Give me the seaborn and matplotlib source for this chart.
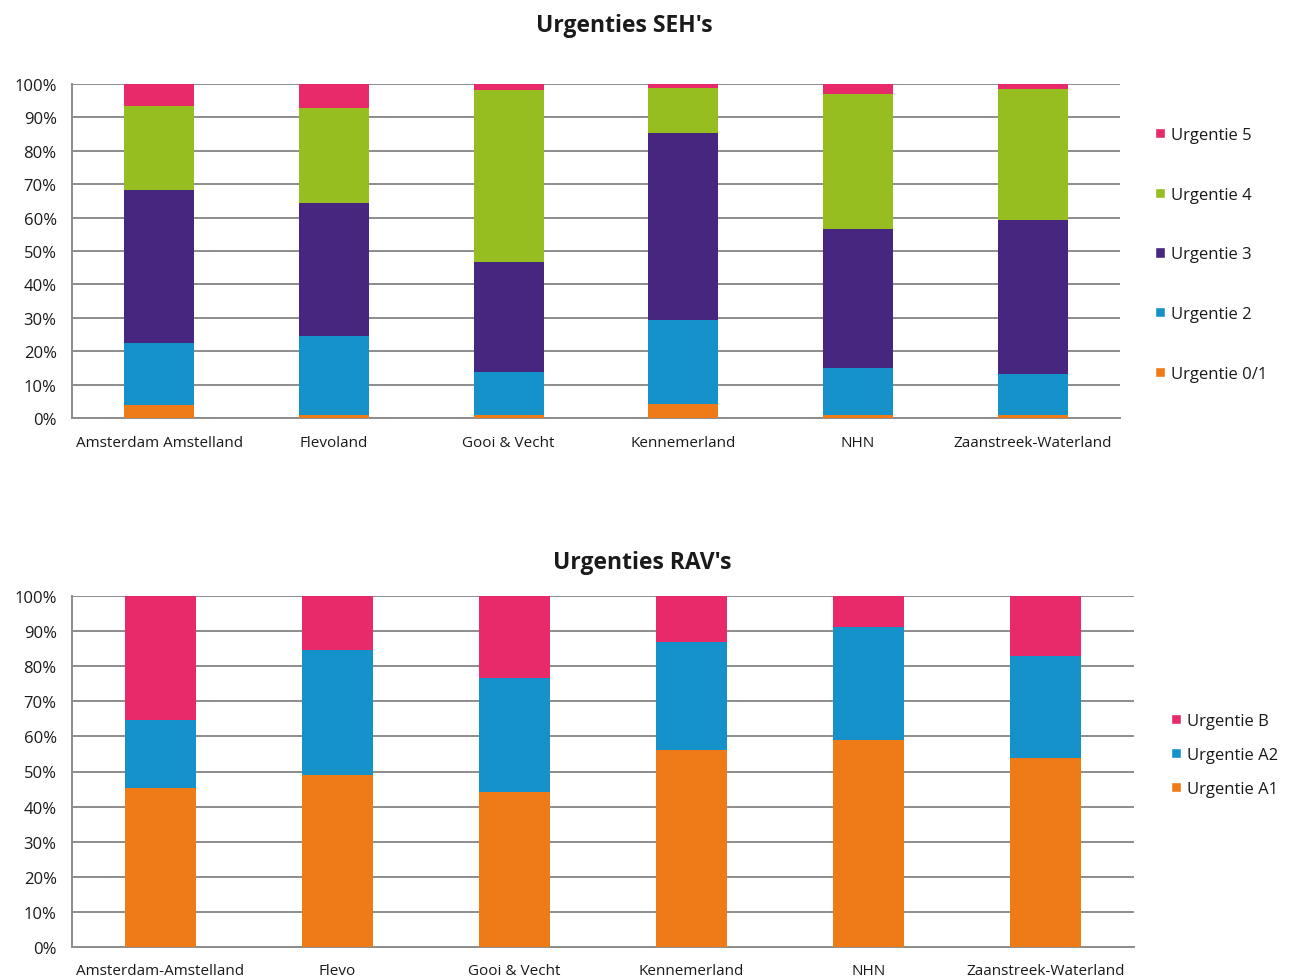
import matplotlib
matplotlib.use("Agg")
import matplotlib.pyplot as plt
import seaborn as sns
import numpy as np
import pandas as pd
from matplotlib.patches import Patch
from matplotlib.ticker import FuncFormatter, MultipleLocator

# --- Spoedeisende hulp (SEH) ---
seh_regions = ["Amsterdam Amstelland", "Flevoland", "Gooi & Vecht",
               "Kennemerland", "NHN", "Zaanstreek-Waterland"]
seh_u01 = [3.9, 1.0, 0.9, 4.2, 0.9, 1.0]
seh_u2 = [18.6, 23.5, 12.8, 25.1, 14.1, 12.3]
seh_u3 = [45.8, 40.0, 33.1, 55.9, 41.5, 46.0]
seh_u4 = [25.2, 28.2, 51.5, 13.6, 40.5, 39.2]
seh_u5 = [6.5, 7.3, 1.7, 1.2, 3.0, 1.5]
seh_labels = ["Urgentie 0/1", "Urgentie 2", "Urgentie 3", "Urgentie 4", "Urgentie 5"]

# --- Ambulancezorg (RAV) ---
rav_regions = ["Amsterdam-Amstelland", "Flevo", "Gooi & Vecht",
               "Kennemerland", "NHN", "Zaanstreek-Waterland"]
rav_a1 = [45.2, 49.1, 44.2, 56.0, 59.0, 53.9]
rav_a2 = [19.5, 35.4, 32.3, 30.9, 32.3, 29.0]
rav_b = [35.3, 15.5, 23.5, 13.1, 8.7, 17.1]
rav_labels = ["Urgentie A1", "Urgentie A2", "Urgentie B"]

ORANGE = "#EE7A18"
BLUE = "#1692CB"
PURPLE = "#47267F"
GREEN = "#97BE21"
PINK = "#E8296A"

sns.set_theme(style="white")
plt.rcParams["font.family"] = ["Open Sans", "DejaVu Sans"]

GRID = "#8C8C8C"
TEXT = "#1A1A1A"


def stacked(ax, regions, series, colors, xpad):
    """Draw stacked bars by overlaying cumulative totals, top segment first."""
    cum = np.cumsum(np.array(series, dtype=float), axis=0)
    for level in range(len(series) - 1, -1, -1):
        df = pd.DataFrame({"regio": regions, "waarde": cum[level]})
        sns.barplot(data=df, x="regio", y="waarde", color=colors[level],
                    width=0.4, saturation=1, linewidth=0, ax=ax, zorder=3)
    ax.set_ylim(0, 100)
    ax.set_xlim(-0.5, len(regions) - 0.5)
    ax.yaxis.set_major_locator(MultipleLocator(10))
    ax.yaxis.set_major_formatter(FuncFormatter(lambda v, p: f"{v:.0f}%"))
    ax.grid(axis="y", color=GRID, linewidth=1.4, zorder=0)
    ax.set_axisbelow(True)
    ax.set_xlabel("")
    ax.set_ylabel("")
    for s in ["top", "right"]:
        ax.spines[s].set_visible(False)
    for s in ["left", "bottom"]:
        ax.spines[s].set_color(GRID)
        ax.spines[s].set_linewidth(1.4)
    ax.tick_params(axis="both", length=0, colors=TEXT)
    ax.tick_params(axis="y", pad=11, labelsize=12)
    ax.tick_params(axis="x", pad=xpad, labelsize=11)


fig = plt.figure(figsize=(12.89, 9.78), dpi=100)
W, H = 1289, 978

ax1 = fig.add_axes([72 / W, 1 - 419 / H, 1048 / W, 334 / H])
stacked(ax1, seh_regions, [seh_u01, seh_u2, seh_u3, seh_u4, seh_u5],
        [ORANGE, BLUE, PURPLE, GREEN, PINK], xpad=12.5)
fig.text(624 / W, 1 - 26 / H, "Urgenties SEH's", ha="center", va="center",
         fontsize=16.5, fontweight="bold", color=TEXT)

ax2 = fig.add_axes([72 / W, 1 - 948 / H, 1062 / W, 351 / H])
stacked(ax2, rav_regions, [rav_a1, rav_a2, rav_b], [ORANGE, BLUE, PINK], xpad=11.5)
fig.text(642 / W, 1 - 563 / H, "Urgenties RAV's", ha="center", va="center",
         fontsize=16.5, fontweight="bold", color=TEXT)

seh_handles = [Patch(facecolor=c, label=l) for c, l in
               zip([PINK, GREEN, PURPLE, BLUE, ORANGE], seh_labels[::-1])]
fig.legend(handles=seh_handles, loc="upper left",
           bbox_to_anchor=(1155 / W, 1 - 128 / H), frameon=False,
           fontsize=12, handlelength=0.6, handleheight=0.6, handletextpad=0.35,
           labelspacing=2.62, labelcolor=TEXT, borderaxespad=0, borderpad=0)

rav_handles = [Patch(facecolor=c, label=l) for c, l in
               zip([PINK, BLUE, ORANGE], rav_labels[::-1])]
fig.legend(handles=rav_handles, loc="upper left",
           bbox_to_anchor=(1171 / W, 1 - 714 / H), frameon=False,
           fontsize=12, handlelength=0.6, handleheight=0.6, handletextpad=0.35,
           labelspacing=1.07, labelcolor=TEXT, borderaxespad=0, borderpad=0)

fig.savefig("out.png", dpi=100, facecolor="white")
